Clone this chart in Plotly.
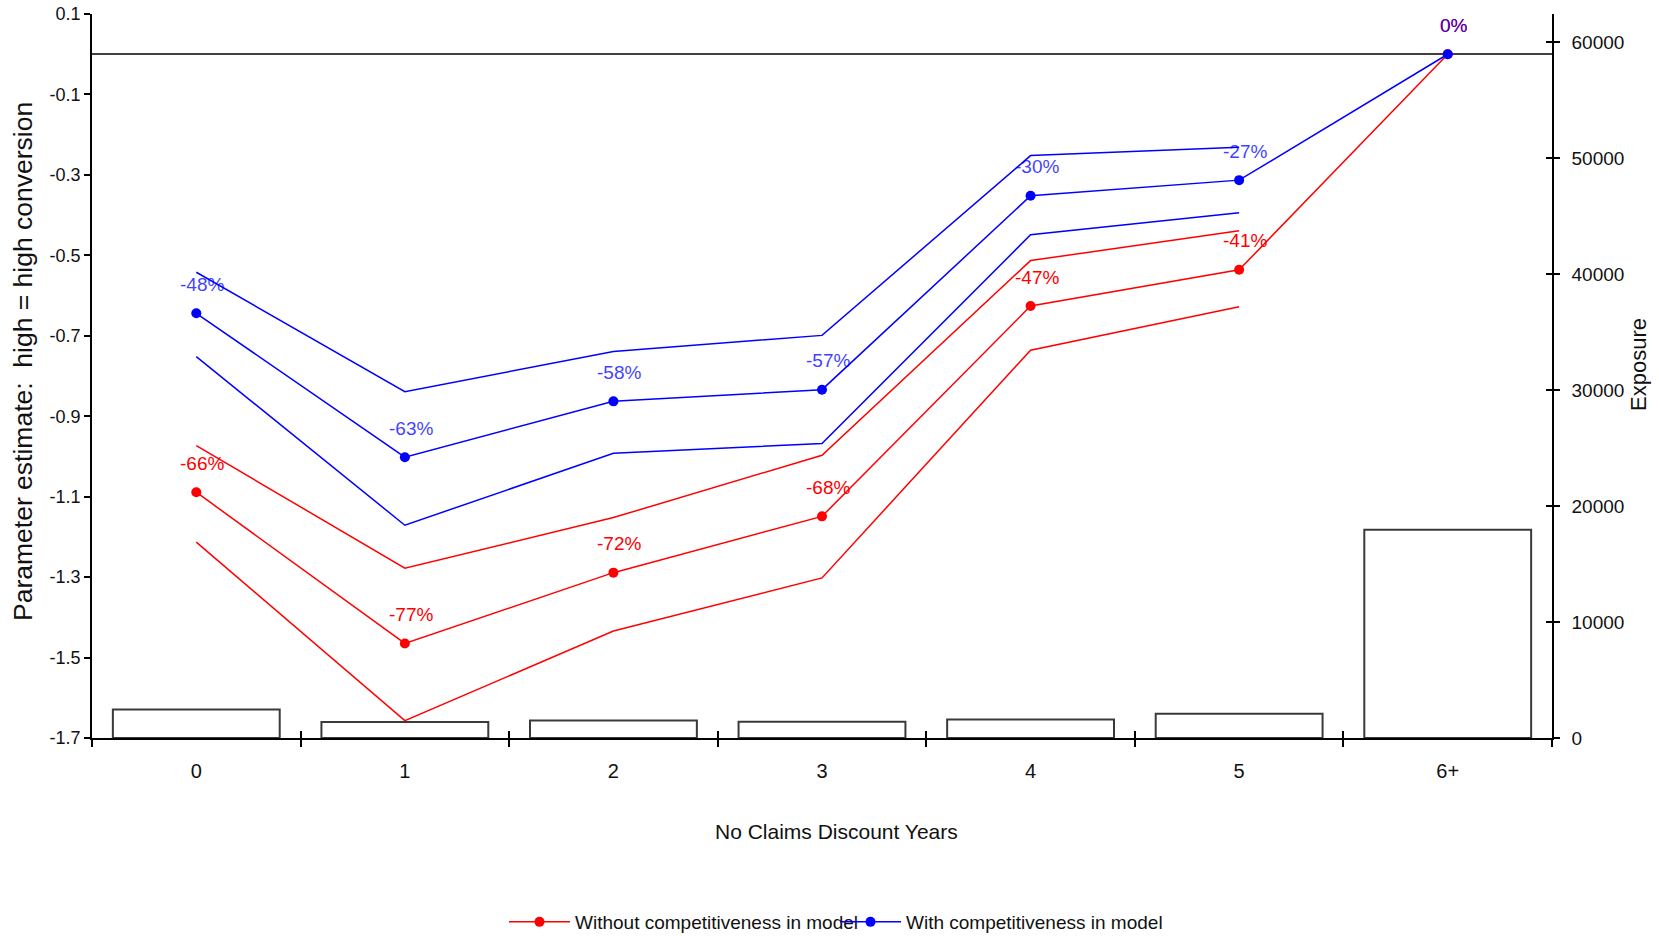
import plotly.graph_objects as go

# ---------------- data ----------------
categories = ["0", "1", "2", "3", "4", "5", "6+"]
exposure = [2450, 1380, 1500, 1400, 1600, 2100, 17950]

red_est = [-1.089, -1.465, -1.289, -1.149, -0.626, -0.536, 0.0]
red_upper = [-0.973, -1.278, -1.152, -0.997, -0.513, -0.439]
red_lower = [-1.213, -1.657, -1.434, -1.302, -0.736, -0.628]
red_labels = ["-66%", "-77%", "-72%", "-68%", "-47%", "-41%", "0%"]

blue_est = [-0.644, -1.002, -0.863, -0.834, -0.352, -0.313, 0.0]
blue_upper = [-0.542, -0.839, -0.739, -0.699, -0.252, -0.231]
blue_lower = [-0.752, -1.171, -0.992, -0.968, -0.449, -0.394]
blue_labels = ["-48%", "-63%", "-58%", "-57%", "-30%", "-27%", "0%"]

param_ticks = [0.1, -0.1, -0.3, -0.5, -0.7, -0.9, -1.1, -1.3, -1.5, -1.7]
exposure_ticks = [0, 10000, 20000, 30000, 40000, 50000, 60000]

red_name = "Without competitiveness in model"
blue_name = "With competitiveness in model"
y_title = "Parameter estimate:\u00a0 high = high conversion"
x_title = "No Claims Discount Years"
y2_title = "Exposure"

# ---------------- styling ----------------
RED = "#ff0000"
BLUE = "#0000ff"
FONT = "Liberation Sans, Arial, sans-serif"
INK = "#111111"

FIG_W, FIG_H = 1659, 936
M_L, M_T = 92, 14
PLOT_W, PLOT_H = 1460, 724


def px_to_paper_x(px):
    return (px - M_L) / PLOT_W


def px_to_paper_y(py):
    return 1 - (py - M_T) / PLOT_H


xpos = list(range(len(categories)))
bounds = [i - 0.5 for i in range(len(categories) + 1)]
x_range = [-0.5, len(categories) - 0.5]
p_range = [min(param_ticks) - 1e-4, max(param_ticks) + 1e-4]
e_range = [0, 62414]

fig = go.Figure()

# exposure bars (base axis, drawn beneath)
fig.add_trace(go.Bar(
    x=xpos, y=exposure, width=0.8, xaxis="x", yaxis="y",
    marker=dict(color="white", line=dict(color="#3a3a3a", width=2)),
    showlegend=False, hoverinfo="skip"))

# helper (empty) traces to activate overlay axes for crossing ticks
fig.add_trace(go.Scatter(x=[None], y=[None], xaxis="x2", yaxis="y",
                         showlegend=False, hoverinfo="skip"))
fig.add_trace(go.Scatter(x=[None], y=[None], xaxis="x", yaxis="y3",
                         showlegend=False, hoverinfo="skip"))


def add_series(est, upper, lower, color, name):
    n_b = len(upper)
    fig.add_trace(go.Scatter(x=xpos[:n_b], y=upper, mode="lines", yaxis="y2",
                             line=dict(color=color, width=1.5),
                             showlegend=False, hoverinfo="skip"))
    fig.add_trace(go.Scatter(x=xpos[:n_b], y=lower, mode="lines", yaxis="y2",
                             line=dict(color=color, width=1.5),
                             showlegend=False, hoverinfo="skip"))
    fig.add_trace(go.Scatter(x=xpos, y=est, mode="lines+markers", yaxis="y2",
                             line=dict(color=color, width=1.5),
                             marker=dict(color=color, size=10),
                             name=name))


add_series(red_est, red_upper, red_lower, RED, red_name)
add_series(blue_est, blue_upper, blue_lower, BLUE, blue_name)

annotations = []
for xi, yi, lab in zip(xpos, red_est, red_labels):
    annotations.append(dict(x=xi, y=yi, xref="x", yref="y2", text=lab,
                            showarrow=False, xshift=6, yshift=29,
                            font=dict(family=FONT, size=19, color=RED)))
for xi, yi, lab in zip(xpos, blue_est, blue_labels):
    annotations.append(dict(x=xi, y=yi, xref="x", yref="y2", text=lab,
                            showarrow=False, xshift=6, yshift=29,
                            opacity=0.75,
                            font=dict(family=FONT, size=19, color=BLUE)))

# axis titles placed as annotations
annotations.append(dict(text=y_title, xref="paper", yref="paper",
                        x=px_to_paper_x(23), y=px_to_paper_y(362),
                        xanchor="center", yanchor="middle", textangle=-90,
                        showarrow=False,
                        font=dict(family=FONT, size=26.5, color=INK)))
annotations.append(dict(text=y2_title, xref="paper", yref="paper",
                        x=px_to_paper_x(1638), y=px_to_paper_y(365),
                        xanchor="center", yanchor="middle", textangle=-90,
                        showarrow=False,
                        font=dict(family=FONT, size=22, color=INK)))
annotations.append(dict(text=x_title, xref="paper", yref="paper",
                        x=px_to_paper_x(836), y=px_to_paper_y(831),
                        xanchor="center", yanchor="middle",
                        showarrow=False,
                        font=dict(family=FONT, size=21, color=INK)))

fig.update_layout(
    width=FIG_W, height=FIG_H,
    template="none",
    paper_bgcolor="white", plot_bgcolor="white",
    font=dict(family=FONT, color=INK),
    margin=dict(l=M_L, r=FIG_W - M_L - PLOT_W, t=M_T,
                b=FIG_H - M_T - PLOT_H, pad=0, autoexpand=False),
    bargap=0.2,
    showlegend=True,
    legend=dict(orientation="h", xref="paper", x=px_to_paper_x(504),
                xanchor="left", yref="container", y=1 - (922 / FIG_H),
                yanchor="middle", itemwidth=61,
                entrywidth=255, entrywidthmode="pixels",
                font=dict(family=FONT, size=19, color=INK),
                bgcolor="rgba(0,0,0,0)", traceorder="normal"),
    annotations=annotations,
    xaxis=dict(
        range=x_range, tickmode="array", tickvals=xpos, ticktext=categories,
        ticks="outside", ticklen=0, ticklabelstandoff=14,
        minor=dict(tickmode="array", tickvals=bounds, ticks="outside",
                   ticklen=7, tickwidth=1.5, tickcolor="black", showgrid=False),
        showline=True, linecolor="black", linewidth=1.5,
        showgrid=False, zeroline=False, automargin=False,
        tickfont=dict(family=FONT, size=20, color=INK),
    ),
    xaxis2=dict(
        overlaying="x", anchor="y", range=x_range,
        tickmode="array", tickvals=bounds, ticks="inside", ticklen=7,
        tickwidth=1.5, tickcolor="black", showticklabels=False,
        showline=False, showgrid=False, zeroline=False, automargin=False,
    ),
    yaxis=dict(
        side="right", anchor="x", range=e_range,
        tickmode="array", tickvals=exposure_ticks,
        ticktext=[str(v) for v in exposure_ticks],
        ticks="outside", ticklen=6, tickwidth=1.5, tickcolor="black",
        ticklabelstandoff=8, ticklabeloverflow="allow",
        showline=True, linecolor="black", linewidth=1.5,
        showgrid=False, zeroline=False, automargin=False,
        tickfont=dict(family=FONT, size=19, color=INK),
    ),
    yaxis2=dict(
        overlaying="y", side="left", anchor="x", range=p_range,
        tickmode="array", tickvals=param_ticks,
        ticktext=[f"{v:.1f}" for v in param_ticks],
        ticks="outside", ticklen=6, tickwidth=1.5, tickcolor="black",
        ticklabeloverflow="allow",
        showline=True, linecolor="black", linewidth=1.5,
        showgrid=False, zeroline=True, zerolinecolor="#404040",
        zerolinewidth=2, automargin=False,
        tickfont=dict(family=FONT, size=18, color=INK),
    ),
    yaxis3=dict(
        overlaying="y", side="right", anchor="x", range=e_range,
        tickmode="array", tickvals=exposure_ticks,
        ticks="inside", ticklen=6, tickwidth=1.5, tickcolor="black",
        showticklabels=False, showline=False, showgrid=False,
        zeroline=False, automargin=False,
    ),
)

fig.write_html(
    "out.html",
    config={"displayModeBar": False},
    post_script="document.documentElement.style.margin='0';"
                "document.body.style.margin='0';"
                "document.body.style.overflow='hidden';",
)
